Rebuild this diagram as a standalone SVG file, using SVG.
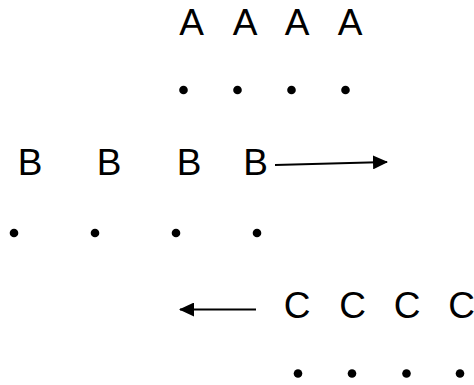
<svg xmlns="http://www.w3.org/2000/svg" width="474" height="385" viewBox="0 0 474 385">
<style>
text{font-family:"Liberation Sans",Arial,sans-serif;font-size:37px;fill:#000;text-anchor:middle}
circle{fill:#000}
.c{stroke:#000;stroke-width:2.2;fill:none}
</style>
<defs>
<marker id="ah" markerWidth="15" markerHeight="14" refX="14" refY="7" orient="auto" markerUnits="userSpaceOnUse">
<path d="M0,0 L15,7 L0,14 Z" fill="#000"/>
</marker>
</defs>
<rect width="474" height="385" fill="#fff"/>
<g id="rowA">
<g id="a1"><text x="191.7" y="34.5">A</text></g>
<g id="a2"><text x="245" y="34.5">A</text></g>
<g id="a3"><text x="297" y="34.5">A</text></g>
<g id="a4"><text x="350" y="34.5">A</text></g>
</g>
<g id="dotsA">
<circle cx="183.5" cy="90" r="4.3"/>
<circle cx="237.5" cy="90" r="4.3"/>
<circle cx="291.5" cy="90" r="4.3"/>
<circle cx="345.5" cy="90" r="4.3"/>
</g>
<g id="rowB">
<g id="b1"><text x="30" y="175">B</text></g>
<g id="b2"><text x="109" y="175">B</text></g>
<g id="b3"><text x="189" y="175">B</text></g>
<g id="b4"><text x="255.5" y="175">B</text></g>
</g>
<g id="dotsB">
<circle cx="14" cy="233" r="4.3"/>
<circle cx="95" cy="233" r="4.3"/>
<circle cx="176" cy="233" r="4.3"/>
<circle cx="257" cy="233" r="4.3"/>
</g>
<g id="rowC">
<g id="c1"><text x="297" y="318">C</text></g>
<g id="c2"><text x="352.5" y="318">C</text></g>
<g id="c3"><text x="407" y="318">C</text></g>
<g id="c4"><text x="461.5" y="318">C</text></g>
</g>
<g id="dotsC">
<circle cx="298" cy="373.5" r="4.3"/>
<circle cx="352" cy="373.5" r="4.3"/>
<circle cx="406.5" cy="373.5" r="4.3"/>
<circle cx="460" cy="373.5" r="4.3"/>
</g>
<g id="connectors">
<line class="c" x1="275" y1="165" x2="387" y2="162" marker-end="url(#ah)"/>
<line class="c" x1="256" y1="309.5" x2="180" y2="309.5" marker-end="url(#ah)"/>
</g>
</svg>
